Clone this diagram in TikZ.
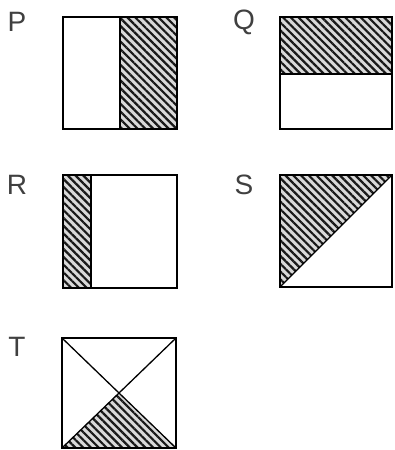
\documentclass[tikz,border=0pt]{standalone}
\usepackage{fontspec}
\setmainfont{Liberation Sans}
\usetikzlibrary{patterns.meta}

\tikzset{
  frame/.style={line width=2pt},
  divider/.style={line width=1.3pt},
  hatch/.style={fill=gray!30,
    postaction={pattern={Lines[angle=-45,distance=5.5pt,line width=2.2pt]},
      pattern color=black!90}},
  letter/.style={font=\fontsize{28}{28}\selectfont, text=black!75}
}

\begin{document}
\begin{tikzpicture}[x=1pt, y=-1pt]
    \useasboundingbox (0,0) rectangle (394,450);

    % P
    \node[letter] (labP) at (17,22) {P};
    \path[hatch] (120,17) rectangle (177,129);
    \draw[divider] (120,17) -- (120,129);
    \draw[frame] (63,17) rectangle (177,129);

    % Q
    \node[letter] (labQ) at (244,22) {Q};
    \path[hatch] (280,17) rectangle (392,74);
    \draw[divider] (280,74) -- (392,74);
    \draw[frame] (280,17) rectangle (392,129);

    % R
    \node[letter] (labR) at (17,185) {R};
    \path[hatch] (63,175) rectangle (91,288);
    \draw[divider] (91,175) -- (91,288);
    \draw[frame] (63,175) rectangle (177,288);

    % S
    \node[letter] (labS) at (244,185) {S};
    \path[hatch] (280,175) -- (392,175) -- (280,287) -- cycle;
    \draw[divider] (280,287) -- (392,175);
    \draw[frame] (280,175) rectangle (392,287);

    % T
    \node[letter] (labT) at (17,347) {T};
    \path[hatch] (119,393) -- (176,448) -- (62,448) -- cycle;
    \draw[divider] (62,338) -- (176,448);
    \draw[divider] (176,338) -- (62,448);
    \draw[frame] (62,338) rectangle (176,448);
\end{tikzpicture}
\end{document}
